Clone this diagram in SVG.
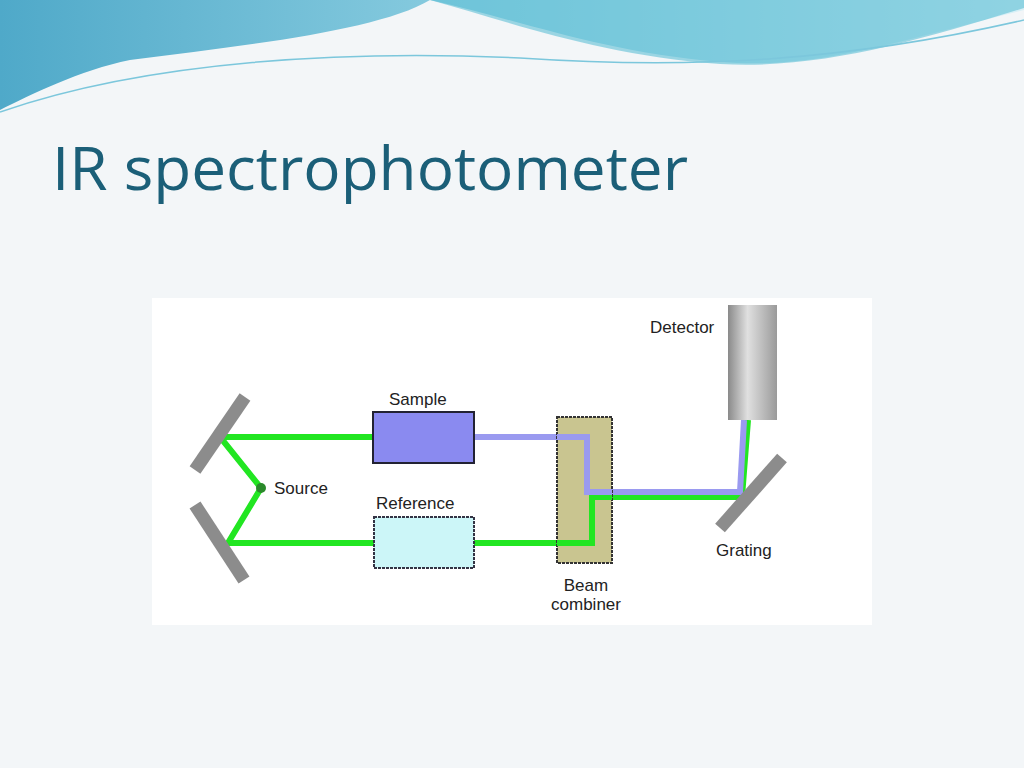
<svg xmlns="http://www.w3.org/2000/svg" width="1024" height="768" viewBox="0 0 1024 768">
<defs>
<linearGradient id="sky" x1="0" y1="0" x2="1" y2="0"><stop offset="0" stop-color="#4fa9c9"/><stop offset="0.5" stop-color="#8fd0e2"/><stop offset="1" stop-color="#d8f0f6"/></linearGradient>
<linearGradient id="det" x1="0" y1="0" x2="1" y2="0"><stop offset="0" stop-color="#8a8a8a"/><stop offset="0.4" stop-color="#e0e0e0"/><stop offset="1" stop-color="#9a9a9a"/></linearGradient>
<style>
.lbl{font-family:"Liberation Sans",Arial,sans-serif;font-size:17px;fill:#222}
.mir{stroke:#8c8c8c;stroke-width:13;fill:none}
.g{stroke:#22e622;stroke-width:6;fill:none;stroke-linejoin:miter}
.b{stroke:#9a9af0;stroke-width:6;fill:none}
</style>
</defs>
<rect width="1024" height="768" fill="#f3f6f8"/>
<path d="M0,0 H1024 V10 C900,40 820,70 720,62 C600,52 520,20 430,0 C380,30 250,45 130,60 C80,70 30,95 0,110 Z" fill="url(#sky)"/>
<path d="M430,0 C520,25 600,55 720,64 C820,70 920,40 1024,8 V0 Z" fill="#5fbfd6" opacity="0.6"/>
<path d="M0,112 C150,60 350,50 520,58 C700,70 850,60 1024,20" stroke="#7cc7dc" stroke-width="1.5" fill="none"/>
<text x="52" y="190" font-family="'Open Sans',sans-serif" font-size="60" fill="#1b5f78" textLength="636" lengthAdjust="spacingAndGlyphs">IR spectrophotometer</text>
<rect x="152" y="298" width="720" height="327" fill="#ffffff"/>
<g id="connectors">
<polyline class="g" points="373,437 220,437 261,488 228,543 374,543"/>
<polyline class="g" points="474,543 592,543 592,497 742,497 748,420"/>
<polyline class="b" points="474,437 587,437 587,492 740,492 744,420"/>
</g>
<g id="mirror-top"><line class="mir" x1="245" y1="397" x2="195" y2="470"/></g>
<g id="mirror-bottom"><line class="mir" x1="195" y1="505" x2="244" y2="580"/></g>
<g id="source"><circle cx="261" cy="488" r="5" fill="#2a8a2a"/><text class="lbl" x="274" y="494">Source</text></g>
<g id="sample"><rect x="373" y="412" width="101" height="51" fill="#8a8af0" stroke="#223" stroke-width="2"/><text class="lbl" x="389" y="405">Sample</text></g>
<g id="reference"><rect x="374" y="517" width="100" height="51" fill="#ccf6f8" stroke="#334" stroke-width="2" stroke-dasharray="3,1"/><text class="lbl" x="376" y="509">Reference</text></g>
<g id="combiner"><rect x="557" y="417" width="55" height="146" fill="#c9c590" stroke="#333" stroke-width="2" stroke-dasharray="3,1"/>
<polyline class="g" points="557,543 592,543 592,497 612,497"/><polyline class="b" points="557,437 587,437 587,492 612,492"/>
<text class="lbl" x="586" y="591" text-anchor="middle">Beam</text><text class="lbl" x="586" y="610" text-anchor="middle">combiner</text></g>
<g id="detector"><rect x="728" y="305" width="49" height="115" fill="url(#det)"/><text class="lbl" x="650" y="333">Detector</text></g>
<g id="grating"><line class="mir" x1="720" y1="528" x2="782" y2="458"/><text class="lbl" x="716" y="556">Grating</text></g>
</svg>
